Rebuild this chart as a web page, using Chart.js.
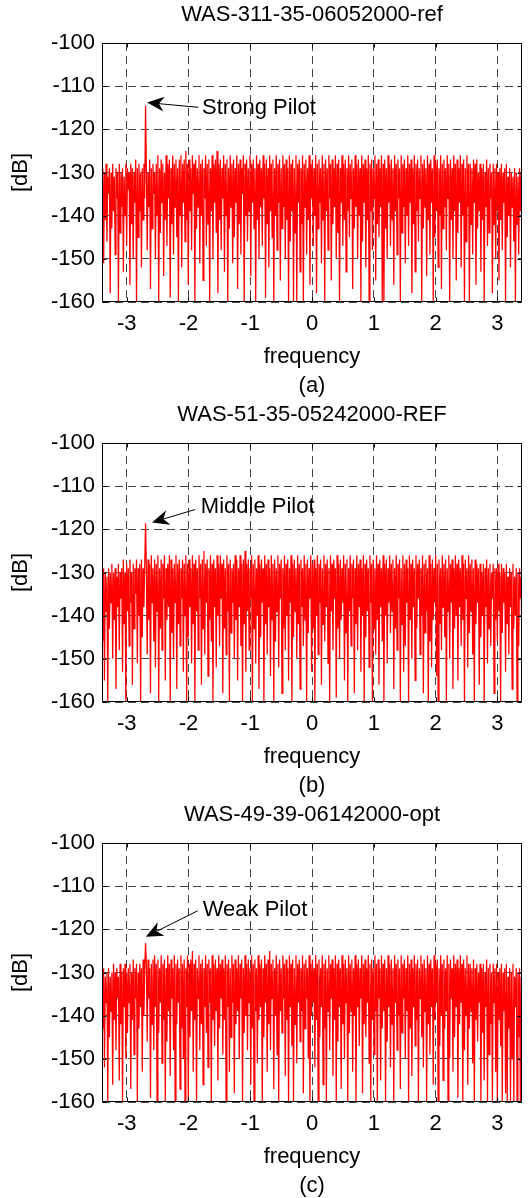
<!DOCTYPE html>
<html><head><meta charset="utf-8">
<script src="https://cdn.jsdelivr.net/npm/chart.js@4.4.0/dist/chart.umd.min.js"></script>
<style>
html,body{margin:0;padding:0;background:#fff;overflow:hidden;width:528px;height:1198px;}
.panel{position:absolute;left:0;width:528px;height:400px;}
canvas{display:block;}
</style></head><body>
<div class="panel" style="top:0"><canvas id="c0" width="528" height="400"></canvas></div>
<div class="panel" style="top:400px"><canvas id="c1" width="528" height="400"></canvas></div>
<div class="panel" style="top:800px"><canvas id="c2" width="528" height="400"></canvas></div>
<script>
const FONT = "'Liberation Sans', Arial, Helvetica, sans-serif";
const FREQ_MIN = -3.4, FREQ_MAX = 3.4;
const xTicks = [-3, -2, -1, 0, 1, 2, 3];
const yTicks = [-160, -150, -140, -130, -120, -110, -100];
const titles = ['WAS-311-35-06052000-ref', 'WAS-51-35-05242000-REF', 'WAS-49-39-06142000-opt'];
const captions = ['(a)', '(b)', '(c)'];
const xLabel = 'frequency';
const yLabel = '[dB]';
const pilotLabels = ['Strong Pilot', 'Middle Pilot', 'Weak Pilot'];
const pilotTextX = [-1.78, -1.80, -1.77];
const pilotTextY = [-115.1, -114.9, -115.4];
const arrowFromX = [-1.84, -1.89, -1.85];
const arrowFromY = [-114.9, -115.4, -115.7];
const arrowTipX = [-2.67, -2.59, -2.69];
const arrowTipY = [-113.8, -118.4, -121.7];

const spectrumA = [
-137,-129,-151,-130,-141,-128,-146,-131,-135,-129,-158,-130,-143,-128,-139,-131,
-149,-129,-136,-130,-160,-128,-144,-130,-138,-129,-153,-131,-140,-128,-147,-129,
-134,-130,-156,-128,-142,-129,-150,-130,-137,-127,-160,-129,-145,-128,-139,-130,
-152,-129,-141,-128,-136,-114.5,-129,-148,-130,-138,-127,-157,-129,-143,-128,-135,
-130,-150,-128,-140,-126,-160,-129,-144,-127,-137,-128,-154,-130,-141,-126,-147,
-128,-136,-127,-159,-129,-142,-126,-149,-128,-138,-127,-145,-129,-160,-127,-140,
-126,-152,-128,-137,-127,-146,-125,-141,-128,-156,-127,-139,-129,-148,-126,-135,
-128,-160,-127,-143,-129,-138,-126,-151,-128,-140,-127,-155,-129,-136,-126,-147,
-128,-142,-127,-160,-129,-139,-126,-150,-128,-137,-127,-144,-125,-158,-128,-141,
-127,-148,-129,-136,-126,-153,-128,-140,-127,-160,-129,-143,-126,-138,-128,-151,
-127,-145,-129,-137,-126,-157,-128,-142,-127,-149,-129,-135,-126,-160,-128,-140,
-127,-146,-129,-139,-126,-154,-128,-137,-127,-143,-129,-160,-126,-141,-128,-150,
-127,-138,-129,-147,-126,-136,-128,-159,-127,-142,-129,-152,-126,-139,-128,-145,
-127,-160,-129,-140,-126,-148,-128,-137,-127,-155,-129,-143,-126,-138,-128,-150,
-127,-141,-129,-160,-126,-146,-128,-139,-127,-160,-129,-144,-126,-160,-128,-137,
-127,-153,-129,-142,-126,-160,-128,-138,-127,-149,-129,-141,-126,-156,-128,-136,
-127,-147,-129,-140,-126,-158,-128,-143,-127,-137,-129,-151,-126,-141,-128,-160,
-127,-139,-129,-148,-126,-136,-128,-155,-127,-142,-129,-138,-126,-150,-128,-144,
-127,-160,-129,-137,-126,-147,-128,-141,-127,-153,-129,-139,-126,-145,-128,-136,
-127,-157,-129,-143,-126,-138,-128,-150,-127,-140,-129,-160,-126,-146,-128,-137,
-127,-152,-129,-141,-126,-160,-128,-139,-127,-148,-129,-136,-126,-155,-128,-142,
-127,-145,-129,-138,-126,-160,-128,-160,-127,-143,-129,-150,-126,-137,-128,-147,
-127,-141,-129,-156,-126,-139,-128,-149,-127,-136,-129,-160,-126,-144,-128,-138,
-127,-151,-129,-140,-126,-147,-128,-137,-127,-158,-129,-142,-126,-153,-128,-139,
-127,-146,-129,-136,-126,-160,-128,-143,-127,-138,-129,-154,-126,-141,-128,-149,
-127,-137,-129,-160,-126,-145,-128,-139,-127,-152,-129,-140,-126,-157,-128,-143,
-127,-138,-129,-148,-126,-136,-128,-160,-127,-141,-129,-150,-126,-139,-128,-155,
-127,-144,-129,-137,-126,-152,-128,-140,-127,-160,-129,-146,-126,-138,-128,-160,
-128,-142,-129,-149,-127,-137,-128,-156,-127,-143,-130,-139,-128,-153,-129,-141,
-128,-160,-130,-138,-127,-147,-129,-144,-128,-136,-130,-158,-128,-142,-129,-150,
-128,-139,-130,-155,-129,-141,-128,-148,-130,-137,-129,-160,-128,-145,-131,-140,
-129,-152,-130,-138,-131,-146,-129,-160,-130,-142,-131,-149,-129,-139,-130,-156
];
const spectrumB = [
-131,-146,-129,-155,-130,-139,-131,-160,-129,-143,-130,-137,-128,-150,-130,-141,
-129,-157,-131,-138,-128,-148,-130,-136,-129,-153,-127,-142,-130,-160,-128,-139,
-129,-147,-127,-137,-130,-156,-128,-143,-129,-135,-127,-151,-129,-140,-128,-160,
-127,-145,-129,-138,-128,-118.6,-129,-149,-127,-141,-128,-158,-126,-137,-129,-146,
-127,-152,-128,-139,-126,-160,-129,-143,-127,-148,-128,-136,-126,-155,-129,-141,
-128,-138,-126,-160,-127,-144,-129,-150,-128,-137,-126,-157,-128,-142,-127,-147,
-129,-136,-127,-153,-128,-140,-126,-160,-128,-145,-127,-138,-129,-151,-126,-142,
-128,-160,-127,-139,-129,-148,-126,-136,-128,-156,-127,-143,-125,-149,-128,-137,
-127,-154,-129,-141,-126,-146,-128,-160,-127,-138,-129,-152,-126,-140,-128,-147,
-126,-136,-128,-158,-127,-143,-129,-149,-126,-139,-128,-160,-127,-144,-129,-137,
-128,-150,-126,-141,-127,-155,-129,-138,-126,-147,-128,-160,-127,-142,-125,-153,
-128,-139,-127,-148,-129,-136,-126,-160,-128,-143,-127,-151,-129,-140,-126,-157,
-128,-145,-127,-137,-129,-160,-126,-142,-128,-149,-127,-138,-129,-154,-126,-141,
-128,-160,-127,-146,-129,-139,-126,-152,-128,-136,-127,-158,-129,-143,-126,-148,
-128,-140,-127,-155,-129,-137,-126,-160,-128,-145,-127,-139,-129,-150,-126,-142,
-128,-157,-127,-138,-129,-147,-126,-141,-128,-160,-127,-144,-129,-136,-126,-153,
-128,-143,-127,-160,-129,-140,-126,-149,-128,-137,-127,-156,-129,-142,-126,-146,
-128,-138,-127,-151,-129,-160,-126,-139,-128,-148,-127,-136,-129,-159,-126,-143,
-128,-150,-127,-141,-129,-137,-126,-155,-128,-144,-127,-160,-129,-139,-126,-147,
-128,-136,-127,-158,-129,-142,-126,-148,-128,-138,-127,-153,-129,-140,-126,-160,
-128,-145,-127,-139,-129,-152,-126,-137,-128,-160,-127,-143,-129,-149,-126,-141,
-128,-156,-127,-138,-129,-146,-126,-160,-128,-140,-127,-151,-129,-137,-126,-144,
-128,-139,-127,-157,-129,-143,-126,-148,-128,-136,-127,-160,-129,-142,-126,-153,
-128,-147,-127,-137,-129,-160,-126,-141,-128,-150,-127,-138,-129,-155,-126,-143,
-128,-136,-127,-149,-129,-140,-126,-158,-128,-144,-127,-139,-129,-160,-126,-146,
-128,-152,-127,-141,-129,-137,-126,-154,-128,-160,-127,-142,-129,-148,-126,-138,
-128,-145,-127,-160,-129,-139,-126,-150,-128,-137,-127,-157,-129,-143,-126,-140,
-128,-155,-127,-138,-129,-147,-126,-141,-128,-160,-127,-136,-129,-152,-126,-144,
-128,-139,-127,-149,-129,-160,-127,-142,-128,-137,-129,-156,-128,-145,-130,-140,
-128,-160,-129,-138,-127,-151,-129,-143,-128,-147,-130,-136,-128,-158,-129,-141,
-129,-146,-128,-139,-130,-160,-128,-144,-129,-137,-130,-153,-128,-142,-131,-149,
-129,-138,-130,-157,-128,-143,-131,-140,-129,-160,-130,-147,-129,-136,-131,-152
];
const spectrumC = [
-130,-143,-129,-152,-131,-137,-130,-160,-129,-145,-131,-139,-130,-156,-128,-141,
-130,-148,-129,-136,-131,-155,-128,-142,-130,-160,-129,-138,-128,-150,-130,-144,
-129,-137,-128,-157,-130,-141,-127,-149,-129,-136,-128,-160,-130,-143,-128,-138,
-129,-153,-127,-140,-129,-123.2,-128,-146,-127,-136,-129,-159,-128,-142,-127,-148,
-126,-138,-128,-160,-127,-144,-129,-137,-126,-151,-128,-141,-127,-160,-129,-146,
-126,-139,-128,-154,-127,-136,-129,-148,-126,-160,-128,-142,-127,-137,-129,-157,
-126,-143,-128,-150,-127,-160,-129,-138,-126,-160,-128,-145,-127,-139,-125,-153,
-128,-141,-127,-160,-129,-136,-126,-148,-128,-142,-127,-156,-129,-138,-126,-144,
-128,-152,-127,-137,-129,-160,-126,-141,-128,-147,-127,-139,-129,-155,-126,-143,
-128,-136,-127,-149,-129,-141,-126,-160,-128,-138,-127,-153,-129,-145,-126,-137,
-128,-158,-127,-142,-129,-139,-126,-150,-128,-136,-127,-160,-129,-144,-126,-140,
-128,-148,-127,-137,-129,-156,-126,-143,-128,-160,-127,-139,-129,-151,-126,-141,
-128,-138,-127,-160,-129,-145,-126,-137,-128,-153,-127,-142,-125,-148,-128,-136,
-127,-157,-129,-140,-126,-149,-128,-160,-127,-139,-129,-144,-126,-136,-128,-154,
-127,-141,-129,-160,-126,-138,-128,-147,-127,-160,-129,-142,-126,-151,-128,-137,
-127,-146,-129,-139,-126,-158,-128,-143,-127,-136,-129,-150,-126,-160,-128,-140,
-127,-137,-129,-152,-126,-141,-128,-160,-127,-145,-129,-138,-126,-156,-128,-143,
-127,-160,-129,-139,-126,-148,-128,-136,-127,-154,-129,-141,-126,-160,-128,-146,
-127,-138,-129,-157,-126,-142,-128,-150,-127,-137,-129,-160,-126,-144,-128,-139,
-127,-153,-129,-140,-126,-160,-128,-138,-127,-147,-129,-136,-126,-158,-128,-142,
-127,-145,-129,-137,-126,-151,-128,-160,-127,-141,-129,-149,-126,-139,-128,-160,
-127,-136,-129,-155,-126,-143,-128,-139,-127,-160,-129,-146,-126,-138,-128,-152,
-127,-142,-129,-160,-126,-137,-128,-148,-127,-140,-129,-157,-126,-144,-128,-136,
-127,-150,-129,-139,-126,-160,-128,-143,-127,-154,-129,-138,-126,-147,-128,-141,
-127,-160,-129,-136,-126,-145,-128,-152,-127,-139,-129,-160,-126,-142,-128,-149,
-127,-138,-129,-156,-126,-141,-128,-137,-127,-160,-129,-147,-126,-140,-128,-155,
-127,-143,-129,-139,-126,-160,-128,-150,-127,-136,-129,-153,-126,-145,-128,-138,
-127,-159,-129,-142,-126,-137,-128,-160,-127,-148,-129,-140,-126,-156,-128,-143,
-128,-139,-129,-151,-127,-160,-129,-141,-128,-146,-130,-137,-128,-160,-129,-144,
-128,-155,-130,-138,-127,-160,-129,-149,-128,-142,-130,-160,-128,-137,-129,-153,
-128,-160,-130,-141,-129,-147,-128,-160,-130,-139,-129,-158,-128,-160,-131,-143,
-129,-160,-130,-150,-128,-160,-131,-138,-129,-160,-130,-145,-129,-160,-131,-156
];
const spectra = [spectrumA, spectrumB, spectrumC];

const boxPlugin = {
  id: 'matlabBox',
  afterDatasetsDraw(chart) {
    const {ctx, chartArea: a, scales} = chart;
    const L = Math.round(a.left) + 0.5, R = Math.round(a.right) - 0.5;
    const T = Math.round(a.top) + 0.5, B = Math.round(a.bottom) - 0.5;
    ctx.save();
    ctx.strokeStyle = '#000';
    ctx.lineWidth = 1;
    ctx.beginPath();
    ctx.rect(L, T, R - L, B - T);
    const tl = 4;
    scales.x.ticks.forEach(t => {
      const px = Math.round(scales.x.getPixelForValue(t.value)) + 0.5;
      ctx.moveTo(px, B); ctx.lineTo(px, B - tl);
      ctx.moveTo(px, T); ctx.lineTo(px, T + tl);
    });
    scales.y.ticks.forEach(t => {
      const py = Math.round(scales.y.getPixelForValue(t.value)) + 0.5;
      ctx.moveTo(L, py); ctx.lineTo(L + tl, py);
      ctx.moveTo(R, py); ctx.lineTo(R - tl, py);
    });
    ctx.stroke();
    ctx.restore();
  }
};

const annPlugin = {
  id: 'pilotAnnotation',
  afterDraw(chart, args, opts) {
    const k = opts.index;
    const {ctx, scales: {x, y}} = chart;
    const fx = x.getPixelForValue(arrowFromX[k]), fy = y.getPixelForValue(arrowFromY[k]);
    const tx = x.getPixelForValue(arrowTipX[k]), ty = y.getPixelForValue(arrowTipY[k]);
    const dx = fx - tx, dy = fy - ty, d = Math.hypot(dx, dy);
    const ux = dx / d, uy = dy / d, px = -uy, py = ux;
    const HL = 17, HW = 7.5;
    ctx.save();
    ctx.strokeStyle = '#000'; ctx.fillStyle = '#000'; ctx.lineWidth = 1;
    ctx.beginPath();
    ctx.moveTo(fx, fy);
    ctx.lineTo(tx + ux * HL * 0.7, ty + uy * HL * 0.7);
    ctx.stroke();
    ctx.beginPath();
    ctx.moveTo(tx, ty);
    ctx.lineTo(tx + ux * HL + px * HW, ty + uy * HL + py * HW);
    ctx.lineTo(tx + ux * HL * 0.7, ty + uy * HL * 0.7);
    ctx.lineTo(tx + ux * HL - px * HW, ty + uy * HL - py * HW);
    ctx.closePath();
    ctx.fill();
    ctx.font = '22px ' + FONT;
    ctx.textAlign = 'left';
    ctx.textBaseline = 'middle';
    ctx.fillText(pilotLabels[k], x.getPixelForValue(pilotTextX[k]), y.getPixelForValue(pilotTextY[k]));
    ctx.restore();
  }
};

function makeChart(k) {
  const values = spectra[k];
  const n = values.length;
  const points = values.map((v, i) => ({x: FREQ_MIN + (FREQ_MAX - FREQ_MIN) * i / (n - 1), y: v}));
  const tickFont = {family: FONT, size: 22, weight: 'normal'};
  new Chart(document.getElementById('c' + k), {
    type: 'line',
    data: {datasets: [{data: points, borderColor: '#ff0000', borderWidth: 1.25, pointRadius: 0, tension: 0, fill: false}]},
    options: {
      responsive: false, animation: false, devicePixelRatio: 1,
      layout: {padding: {left: 0, right: 6, top: 0, bottom: 0}},
      plugins: {
        legend: {display: false}, tooltip: {enabled: false},
        title: {display: true, text: titles[k], fullSize: false, color: '#000',
          font: {family: FONT, size: 22, weight: 'normal', lineHeight: 1.2},
          padding: {top: 2, bottom: 14.6}},
        pilotAnnotation: {index: k}
      },
      scales: {
        x: {
          type: 'linear', min: FREQ_MIN, max: FREQ_MAX,
          afterBuildTicks: s => { s.ticks = xTicks.map(v => ({value: v})); },
          afterFit: s => { s.height = 98; },
          grid: {color: '#444', lineWidth: 1, drawTicks: false},
          border: {display: false, dash: [8, 5]},
          ticks: {color: '#000', font: tickFont, padding: 9, maxRotation: 0, autoSkip: false, callback: v => String(v)},
          title: {display: true, text: [xLabel, captions[k]], color: '#000',
            font: {family: FONT, size: 22, weight: 'normal', lineHeight: 1.3}, padding: {top: 0, bottom: 0}}
        },
        y: {
          type: 'linear', min: -160, max: -100,
          afterBuildTicks: s => { s.ticks = yTicks.map(v => ({value: v})); },
          afterFit: s => { s.width = 102; },
          grid: {color: '#444', lineWidth: 1, drawTicks: false},
          border: {display: false, dash: [8, 5]},
          ticks: {color: '#000', font: tickFont, padding: 7, callback: v => String(v)},
          title: {display: true, text: yLabel, color: '#000',
            font: {family: FONT, size: 22, weight: 'normal', lineHeight: 1.2}, padding: {top: 8, bottom: 0}}
        }
      }
    },
    plugins: [boxPlugin, annPlugin]
  });
}
[0, 1, 2].forEach(makeChart);
</script>
</body></html>
